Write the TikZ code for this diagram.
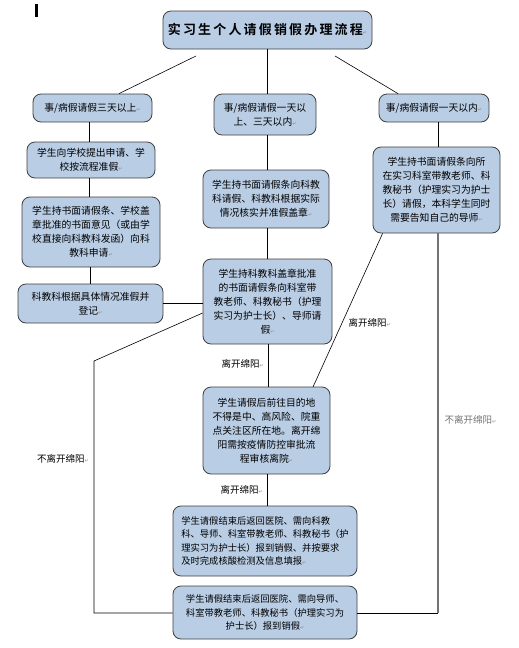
\documentclass[tikz,border=0pt]{standalone}
\usepackage{fontspec}
\newfontfamily\cjk{Noto Sans CJK SC}
\newfontfamily\cjkbold{Noto Sans CJK SC Bold}
\newfontfamily\markfont{DejaVu Sans}
\newcommand{\pmark}{{\markfont\fontsize{5}{5}\selectfont\color{black!45}↵}}
\definecolor{boxfill}{HTML}{B9CDE5}
\definecolor{boxline}{HTML}{3F3F3F}
\begin{document}
\begin{tikzpicture}[x=1pt,y=-1pt,
  flowbox/.style={draw=boxline, fill=boxfill, rounded corners=8pt, line width=0.8pt,
    align=center, inner sep=2pt, font=\cjk\fontsize{9.8}{14.1}\selectfont},
  widebox/.style={flowbox, font=\cjk\fontsize{9.3}{13.6}\selectfont},
  tag/.style={font=\cjk\fontsize{9.5}{10}\selectfont, inner sep=0pt},
  link/.style={line width=0.6pt, black}]
  \useasboundingbox (0,0) rectangle (519,648);
  % Cursor mark
  \fill[black] (35,4) rectangle (37.5,17);
  % Title
  \node[flowbox, minimum width=209pt, minimum height=38pt, font=\cjkbold\fontsize{13}{15}\selectfont]
    (title) at (267.5,30) {实\,习\,生\,个\,人\,请\,假\,销\,假\,办\,理\,流\,程\pmark};
  % Left column
  \node[flowbox, minimum width=119pt, minimum height=28pt] (l1) at (92.5,108) {事/病假请假三天以上\pmark};
  \node[flowbox, minimum width=128pt, minimum height=36pt] (l2) at (91,160)
    {学生向学校提出申请、学\\校按流程准假\pmark};
  \node[flowbox, minimum width=138pt, minimum height=70pt] (l3) at (91,232)
    {学生持书面请假条、学校盖\\章批准的书面意见（或由学\\校直接向科教科发函）向科\\教科申请\pmark};
  \node[flowbox, minimum width=145pt, minimum height=39pt] (l4) at (90.5,303.5)
    {科教科根据具体情况准假并\\登记\pmark};
  % Middle column
  \node[flowbox, minimum width=102pt, minimum height=41pt] (m1) at (265,114.5)
    {事/病假请假一天以\\上、三天以内\pmark};
  \node[flowbox, minimum width=126pt, minimum height=58pt] (m2) at (266,199)
    {学生持书面请假条向科教\\科请假、科教科根据实际\\情况核实并准假盖章\pmark};
  \node[flowbox, minimum width=129pt, minimum height=85pt] (m3) at (267.5,301.5)
    {学生持科教科盖章批准\\的书面请假条向科室带\\教老师、科教秘书（护理\\实习为护士长）、导师请\\假\pmark};
  \node[flowbox, minimum width=127pt, minimum height=87pt] (m4) at (266.5,430.5)
    {学生请假后前往目的地\\不得是中、高风险、院重\\点关注区所在地。离开绵\\阳需按疫情防控审批流\\程审核离院\pmark};
  \node[widebox, minimum width=184pt, minimum height=70pt, align=left] (m5) at (265,541)
    {学生请假结束后返回医院、需向科教\\科、导师、科室带教老师、科教秘书（护\\理实习为护士长）报到销假、并按要求\\及时完成核酸检测及信息填报\pmark};
  \node[widebox, minimum width=184pt, minimum height=53pt] (m6) at (265,612.5)
    {学生请假结束后返回医院、需向导师、\\科室带教老师、科教秘书（护理实习为\\护士长）报到销假\pmark};
  % Right column
  \node[flowbox, minimum width=110pt, minimum height=28pt] (r1) at (434,108) {事/病假请假一天以内\pmark};
  \node[flowbox, minimum width=127pt, minimum height=86pt] (r2) at (436.5,190)
    {学生持书面请假条向所\\在实习科室带教老师、科\\教秘书（护理实习为护士\\长）请假，本科学生同时\\需要告知自己的导师\pmark};
  % Bend points
  \coordinate (tl) at (196,56);
  \coordinate (tr) at (335,56);
  \coordinate (lbend) at (94,361);
  \coordinate (lfoot) at (94,613);
  \coordinate (rfoot) at (438,613);
  % Title to the three cases
  \draw[link] (tl) -- (l1.north east -| 119,94);
  \draw[link] (title.south -| 267,0) -- (m1.north -| 267,0);
  \draw[link] (tr) -- (r1.north -| 398,0);
  % Left chain
  \draw[link] (l1.south -| 89,0) -- (l2.north -| 89,0);
  \draw[link] (l2.south -| 89,0) -- (l3.north -| 89,0);
  \draw[link] (l3.south -| 90,0) -- (l4.north -| 90,0);
  \draw[link] (l4.east |- 0,303) -- (m3.west |- 0,303);
  % Middle chain
  \draw[link] (m1.south -| 267,0) -- (m2.north -| 267,0);
  \draw[link] (m2.south -| 267,0) -- (m3.north -| 267,0);
  \draw[link] (m3.south -| 268,0) -- node[tag, left=4pt, pos=0.45] (t1) {离开绵阳\pmark} (m4.north -| 268,0);
  \draw[link] (m4.south -| 267,0) -- node[tag, left=4pt, pos=0.5] (t2) {离开绵阳\pmark} (m5.north -| 267,0);
  % Right chain
  \draw[link] (r1.south -| 438,0) -- (r2.north -| 438,0);
  \draw[link] (r2.south west) ++(10,0) coordinate (rdiag) -- node[tag, right=6pt, pos=0.58] (t3) {离开绵阳\pmark} (313,387);
  \draw[line width=1.1pt, black!55] (r2.south -| 438,0) -- node[tag, right=6pt, pos=0.49] (t4) {不离开绵阳\pmark} (rfoot);
  \draw[link] (rfoot) -- (m6.east |- rfoot);
  % Left bypass
  \draw[link] (m3.west |- 0,313) -- (lbend) -- node[tag, left=5pt, pos=0.39] (t5) {不离开绵阳\pmark} (lfoot) -- (m6.west |- lfoot);
\end{tikzpicture}
\end{document}
